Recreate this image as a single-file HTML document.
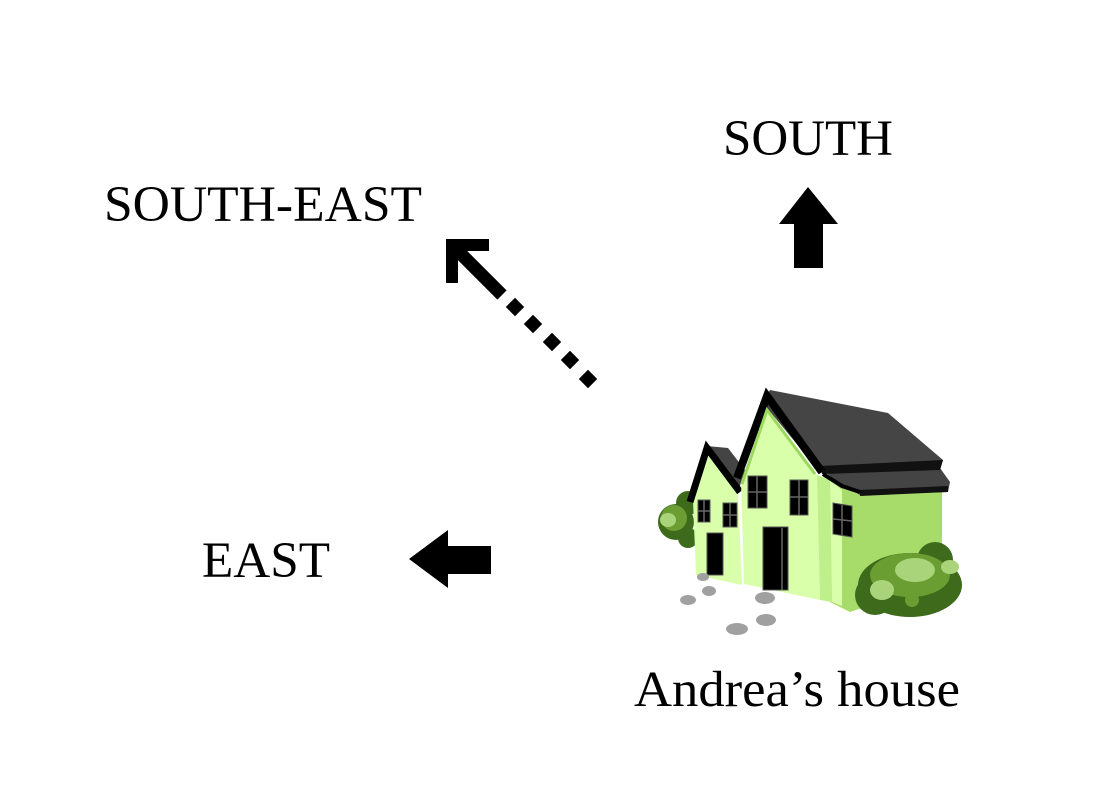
<!DOCTYPE html>
<html><head><meta charset="utf-8"><style>
html,body{margin:0;padding:0;background:#fff}
svg{display:block}
text{font-family:"Liberation Serif",serif;font-size:51px;fill:#000}
</style></head><body>
<svg width="1096" height="806" viewBox="0 0 1096 806" xmlns="http://www.w3.org/2000/svg">
<rect width="1096" height="806" fill="#fff"/>
<text x="808" y="155" text-anchor="middle">SOUTH</text>
<text x="104" y="221" textLength="318" lengthAdjust="spacingAndGlyphs">SOUTH-EAST</text>
<text x="202" y="577" textLength="128" lengthAdjust="spacingAndGlyphs">EAST</text>
<text x="634" y="706" textLength="326" lengthAdjust="spacingAndGlyphs">Andrea’s house</text>

<!-- up arrow -->
<polygon points="808,187 838,224 823,224 823,268 794,268 794,224 779,224" fill="#000"/>
<!-- left arrow -->
<polygon points="409,559 448,530 448,546 491,546 491,574 448,574 448,588" fill="#000"/>
<!-- diagonal arrow -->
<path d="M489,245 L452,245 L452,283" fill="none" stroke="#000" stroke-width="12" stroke-linejoin="miter"/>
<line x1="452" y1="245" x2="502" y2="295" stroke="#000" stroke-width="13"/>
<g fill="#000">
<rect x="-6.5" y="-6.5" width="13" height="13" transform="translate(515,307) rotate(45)"/>
<rect x="-6.5" y="-6.5" width="13" height="13" transform="translate(533,324) rotate(45)"/>
<rect x="-6.5" y="-6.5" width="13" height="13" transform="translate(552,342) rotate(45)"/>
<rect x="-6.5" y="-6.5" width="13" height="13" transform="translate(570,360) rotate(45)"/>
<rect x="-6.5" y="-6.5" width="13" height="13" transform="translate(588,379) rotate(45)"/>
</g>

<!-- house -->
<!-- left bush -->
<g>
<circle cx="676" cy="522" r="18" fill="#3d6b1b"/>
<circle cx="688" cy="503" r="12" fill="#3d6b1b"/>
<circle cx="688" cy="538" r="10" fill="#3d6b1b"/>
<circle cx="674" cy="518" r="13" fill="#6a9e32"/>
<ellipse cx="668" cy="520" rx="8" ry="7" fill="#a9d47a"/>
</g>
<!-- side wall -->
<polygon points="826,480 942,490 942,580 850,612 826,600" fill="#a8dc6a"/>
<!-- lower roof -->
<polygon points="820,468 940,468 950,482 948,492 860,495 835,480" fill="#444"/>
<polygon points="860,490 948,486 948,492 860,496" fill="#111"/>
<!-- upper roof -->
<polygon points="770,390 888,413 943,460 940,470 820,472 762,402" fill="#454545"/>
<polygon points="820,466 943,460 940,470 822,474" fill="#111"/>
<!-- small roof -->
<polygon points="707,446 728,448 745,470 738,492" fill="#444"/>
<!-- small facade -->
<polygon points="693,500 708,456 738,494 742,585 696,575" fill="#d9ffab"/>
<polyline points="690,502 707,448 740,492" fill="none" stroke="#000" stroke-width="7"/>
<!-- main facade -->
<polygon points="741,482 767,410 817,475 820,600 744,584" fill="#d9ffab"/>
<polygon points="817,475 830,480 832,602 820,600" fill="#bfef8a"/>
<polygon points="830,480 842,490 842,606 832,602" fill="#d9ffab"/>
<polyline points="737,478 767,396 822,472" fill="none" stroke="#000" stroke-width="8"/>
<polyline points="742,484 767,410 815,474" fill="none" stroke="#9ad85e" stroke-width="3"/>
<polyline points="823,474 842,486 860,492" fill="none" stroke="#000" stroke-width="4"/>
<!-- windows -->
<g fill="#000" stroke="#555" stroke-width="1">
<rect x="698" y="500" width="12" height="22"/>
<rect x="723" y="503" width="14" height="24"/>
<rect x="748" y="476" width="19" height="32"/>
<rect x="790" y="480" width="18" height="35"/>
<polygon points="833,503 852,506 852,537 833,534"/>
<rect x="707" y="533" width="16" height="42"/>
<rect x="763" y="527" width="25" height="63"/>
</g>
<g stroke="#666" stroke-width="1.5">
<line x1="704" y1="500" x2="704" y2="522"/><line x1="698" y1="511" x2="710" y2="511"/>
<line x1="730" y1="503" x2="730" y2="527"/><line x1="723" y1="515" x2="737" y2="515"/>
<line x1="757" y1="476" x2="757" y2="508"/><line x1="748" y1="492" x2="767" y2="492"/>
<line x1="799" y1="480" x2="799" y2="515"/><line x1="790" y1="497" x2="808" y2="497"/>
<line x1="842" y1="505" x2="842" y2="536"/><line x1="833" y1="519" x2="852" y2="521"/>
<line x1="782" y1="528" x2="782" y2="590"/>
</g>
<!-- right bush -->
<g>
<ellipse cx="910" cy="585" rx="52" ry="32" fill="#3d6b1b"/>
<circle cx="935" cy="560" r="18" fill="#3d6b1b"/>
<circle cx="875" cy="595" r="20" fill="#3d6b1b"/>
<ellipse cx="910" cy="575" rx="40" ry="22" fill="#6a9e32"/>
<ellipse cx="915" cy="570" rx="20" ry="12" fill="#a9d47a"/>
<ellipse cx="950" cy="567" rx="9" ry="7" fill="#a9d47a"/>
<ellipse cx="882" cy="590" rx="12" ry="10" fill="#a9d47a"/>
<circle cx="912" cy="600" r="7" fill="#6a9e32"/>
</g>
<!-- stones -->
<g fill="#a0a0a0">
<ellipse cx="703" cy="577" rx="6" ry="4"/>
<ellipse cx="709" cy="591" rx="7" ry="5"/>
<ellipse cx="688" cy="600" rx="8" ry="5"/>
<ellipse cx="765" cy="598" rx="10" ry="6"/>
<ellipse cx="766" cy="620" rx="10" ry="6"/>
<ellipse cx="737" cy="629" rx="11" ry="6"/>
</g>
</svg>
</body></html>
